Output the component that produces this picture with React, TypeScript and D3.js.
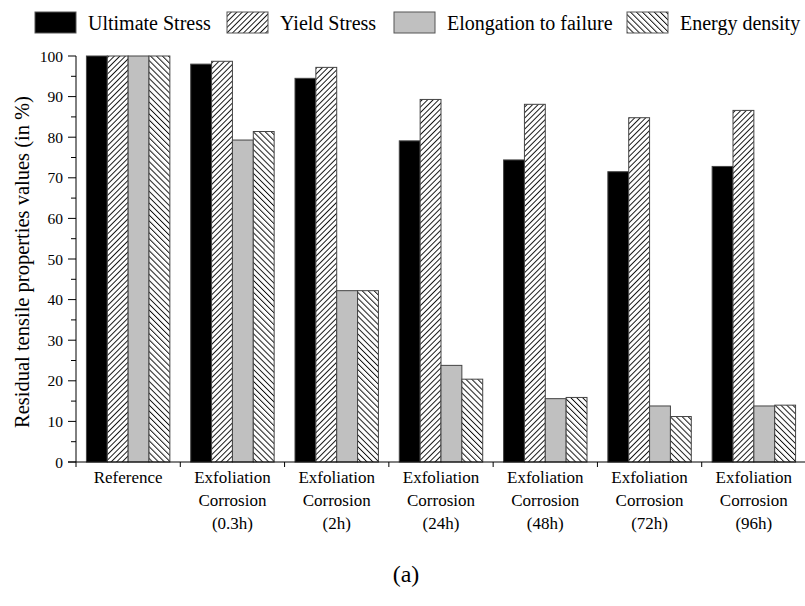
import React from "react";
import * as d3 from "d3";

const categories = [
  ["Reference"],
  ["Exfoliation", "Corrosion", "(0.3h)"],
  ["Exfoliation", "Corrosion", "(2h)"],
  ["Exfoliation", "Corrosion", "(24h)"],
  ["Exfoliation", "Corrosion", "(48h)"],
  ["Exfoliation", "Corrosion", "(72h)"],
  ["Exfoliation", "Corrosion", "(96h)"],
];
const seriesNames = ["Ultimate Stress", "Yield Stress", "Elongation to failure", "Energy density"];
const ultimateStress = [100, 98.0, 94.5, 79.1, 74.4, 71.5, 72.8];
const yieldStress = [100, 98.7, 97.2, 89.3, 88.1, 84.8, 86.6];
const elongation = [100, 79.3, 42.2, 23.8, 15.6, 13.8, 13.8];
const energyDensity = [100, 81.4, 42.2, 20.4, 15.9, 11.2, 14.0];
const yTicks = [0, 10, 20, 30, 40, 50, 60, 70, 80, 90, 100];

const seriesValues = [ultimateStress, yieldStress, elongation, energyDensity];
const fills = ["#000000", "url(#hatchFwd)", "#c0c0c0", "url(#hatchBack)"];
const FONT = "'Liberation Serif', 'Times New Roman', Times, serif";

export default function App() {
  const left = 76, right = 806, top = 56, bottom = 462;
  const catIdx = categories.map((_, i) => String(i));
  const x = d3.scaleBand<string>().domain(catIdx).range([left, right]).paddingInner(0).paddingOuter(0);
  const xs = d3.scaleBand<string>().domain(seriesNames).range([0, x.bandwidth()]).paddingInner(0).paddingOuter(0.5);
  const y = d3.scaleLinear().domain([0, 100]).range([bottom, top]);
  const minorTicks = d3.range(5, 100, 10);
  const boundaries = d3.range(0, categories.length + 1).map((i) => left + i * x.step());

  const legendX = [35, 227, 394, 627];

  return (
    <svg width={805} height={606} style={{ position: "absolute", left: 0, top: 0, background: "#fff", fontFamily: FONT }}>
      <defs>
        <pattern id="hatchFwd" patternUnits="userSpaceOnUse" width={3.9} height={10} patternTransform="rotate(45)">
          <rect width={3.9} height={10} fill="#fff" />
          <line x1={0.5} y1={0} x2={0.5} y2={10} stroke="#000" strokeWidth={0.9} />
        </pattern>
        <pattern id="hatchBack" patternUnits="userSpaceOnUse" width={4.2} height={10} patternTransform="rotate(-45)">
          <rect width={4.2} height={10} fill="#fff" />
          <line x1={0.5} y1={0} x2={0.5} y2={10} stroke="#000" strokeWidth={0.9} />
        </pattern>
      </defs>

      {/* legend */}
      {seriesNames.map((name, i) => (
        <g key={name}>
          <rect x={legendX[i]} y={12} width={41} height={21} fill={fills[i]} stroke="#555" strokeWidth={1} />
          <text x={legendX[i] + 53} y={30} fontSize={20} fill="#000">{name}</text>
        </g>
      ))}

      {/* bars */}
      {categories.map((_, ci) => (
        <g key={ci} transform={`translate(${x(String(ci))},0)`}>
          {seriesNames.map((s, si) => {
            const v = seriesValues[si][ci];
            return (
              <rect
                key={s}
                x={xs(s)}
                y={y(v)}
                width={xs.bandwidth()}
                height={y(0) - y(v)}
                fill={fills[si]}
                stroke="#444"
                strokeWidth={1}
              />
            );
          })}
        </g>
      ))}

      {/* y axis */}
      <line x1={left} y1={top} x2={left} y2={bottom + 5} stroke="#000" strokeWidth={1} />
      {yTicks.map((t) => (
        <g key={t}>
          <line x1={left - 8} y1={y(t)} x2={left} y2={y(t)} stroke="#000" />
          <text x={left - 13} y={y(t) + 5.5} fontSize={15.5} textAnchor="end">{t}</text>
        </g>
      ))}
      {minorTicks.map((t) => (
        <line key={t} x1={left - 5} y1={y(t)} x2={left} y2={y(t)} stroke="#000" />
      ))}
      <text
        transform={`translate(29,${(top + bottom) / 2 + 3}) rotate(-90)`}
        textAnchor="middle"
        fontSize={20.5}
      >
        Residual tensile properties values (in %)
      </text>

      {/* x axis */}
      <line x1={left - 8} y1={bottom} x2={right} y2={bottom} stroke="#000" strokeWidth={1} />
      {boundaries.slice(1).map((bx, i) => (
        <line key={i} x1={bx} y1={bottom} x2={bx} y2={bottom + 5} stroke="#000" />
      ))}
      {categories.map((lines, ci) => (
        <text key={ci} textAnchor="middle" fontSize={17}>
          {lines.map((l, li) => (
            <tspan key={li} x={(x(String(ci)) as number) + x.bandwidth() / 2} y={483 + li * 23}>{l}</tspan>
          ))}
        </text>
      ))}

      <text x={406} y={582} textAnchor="middle" fontSize={24}>(a)</text>
    </svg>
  );
}
